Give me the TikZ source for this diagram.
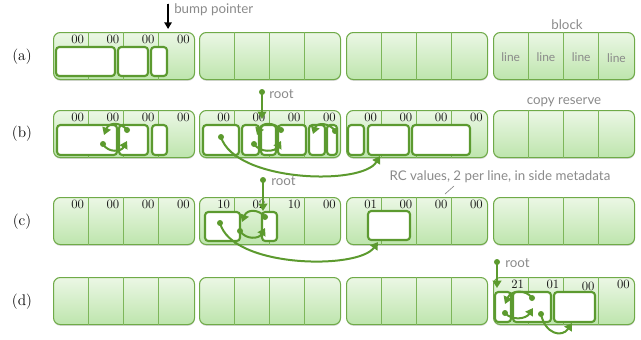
\documentclass[tikz,border=0pt]{standalone}
\usepackage{fontspec}
\newfontfamily\notefont{Lato}
\usetikzlibrary{calc,fit,shadows,arrows.meta}

\definecolor{blockTop}{HTML}{EBF7E5}
\definecolor{blockBot}{HTML}{BEE5AD}
\definecolor{blockEdge}{HTML}{6FAA48}
\definecolor{divEdge}{HTML}{7DB65A}
\definecolor{objEdge}{HTML}{5C9A30}
\definecolor{arrowGreen}{HTML}{5C9A2E}
\definecolor{noteGray}{HTML}{8A8A8A}

% one block of four lines, #1 name, #2 left, #3 top
\newcommand\memblk[3]{%
  \node[blockbox, anchor=north west] (#1) at (#2,#3) {};
  \foreach \k in {1,2,3}
    \draw[divider] ($(#1.north west)+(\k*35.25,0)$) -- ($(#1.south west)+(\k*35.25,0)$);
}
% reference count label of line #2 of block #1
\newcommand\rclab[3]{%
  \node[rclabel, anchor=base east] (#1-rc#2) at ($(#1.north west)+(#2*35.25-4,11)$) {#3};
}
% an object, #1 name, #2 top-left, #3 bottom-right
\newcommand\memobj[3]{%
  \node[objbox, fit={#2 #3}] (#1) {};
}

\begin{document}
\begin{tikzpicture}[x=0.75pt,y=-0.75pt,
  blockbox/.style={draw=blockEdge, line width=0.8pt, rounded corners=5pt,
    top color=blockTop, bottom color=blockBot,
    minimum width=105.75pt, minimum height=35.25pt, inner sep=0pt,
    drop shadow={shadow xshift=0.2pt, shadow yshift=-1pt, opacity=0.25, fill=black!60}},
  divider/.style={draw=divEdge, line width=0.75pt},
  objbox/.style={draw=objEdge, line width=1.6pt, fill=white, rounded corners=2.5pt, inner sep=0pt},
  rclabel/.style={font=\fontsize{9.5}{10}\selectfont, inner sep=0pt, text=black!90},
  rowtag/.style={font=\fontsize{11.5}{12}\selectfont, inner sep=0pt},
  note/.style={font=\notefont\fontsize{10}{12}\selectfont, text=noteGray, inner sep=0pt},
  ptr/.style={draw=arrowGreen, line width=1.5pt, -{Triangle[length=5.5pt,width=6.5pt]}},
  dot/.style={circle, fill=arrowGreen, inner sep=0pt, minimum size=4.5pt},
]
\useasboundingbox (0,0) rectangle (641,339);

% ---------- row labels ----------
\node[rowtag] (ta) at (22,57) {(a)};
\node[rowtag] (tb) at (22,134) {(b)};
\node[rowtag] (tc) at (22,222) {(c)};
\node[rowtag] (td) at (22,302) {(d)};

% ---------- blocks ----------
\memblk{A1}{53}{32}  \memblk{A2}{199}{32}  \memblk{A3}{346}{32}  \memblk{A4}{493}{32}
\memblk{B1}{53}{110} \memblk{B2}{199}{110} \memblk{B3}{346}{110} \memblk{B4}{493}{110}
\memblk{C1}{53}{197} \memblk{C2}{199}{197} \memblk{C3}{346}{197} \memblk{C4}{493}{197}
\memblk{D1}{53}{277} \memblk{D2}{199}{277} \memblk{D3}{346}{277} \memblk{D4}{493}{277}

% ---------- reference counts ----------
\rclab{A1}{1}{00} \rclab{A1}{2}{00} \rclab{A1}{3}{00} \rclab{A1}{4}{00}
\rclab{B1}{1}{00} \rclab{B1}{2}{00} \rclab{B1}{3}{00} \rclab{B1}{4}{00}
\rclab{B2}{1}{00} \rclab{B2}{2}{00} \rclab{B2}{3}{00} \rclab{B2}{4}{00}
\rclab{B3}{1}{00} \rclab{B3}{2}{00} \rclab{B3}{3}{00} \rclab{B3}{4}{00}
\rclab{C1}{1}{00} \rclab{C1}{2}{00} \rclab{C1}{3}{00} \rclab{C1}{4}{00}
\rclab{C2}{1}{10} \rclab{C2}{2}{02} \rclab{C2}{3}{10} \rclab{C2}{4}{00}
\rclab{C3}{1}{01} \rclab{C3}{2}{00} \rclab{C3}{3}{00} \rclab{C3}{4}{00}
\rclab{D4}{1}{21} \rclab{D4}{2}{01}
\node[rclabel, anchor=base east] (D4-rc3) at ($(D4.north west)+(3*35.25-4,13)$) {00};
\rclab{D4}{4}{00}

% ---------- objects ----------
\memobj{oa1}{(56,47)}{(115,76)}
\memobj{oa2}{(118,47)}{(148,76)}
\memobj{oa3}{(151,47)}{(167,76)}

\memobj{ob1}{(57,125)}{(117,155)}
\memobj{ob2}{(119,125)}{(148,155)}
\memobj{ob3}{(152,125)}{(167,155)}
\memobj{ob4}{(203,125)}{(239,155)}
\memobj{ob5}{(242,125)}{(259,155)}
\memobj{ob6}{(261,125)}{(276,155)}
\memobj{ob7}{(278,125)}{(306,155)}
\memobj{ob8}{(309,125)}{(325,155)}
\memobj{ob9}{(327,125)}{(337,155)}
\memobj{ob10}{(348,125)}{(364,155)}
\memobj{ob11}{(368,125)}{(409,155)}
\memobj{ob12}{(412,125)}{(470,155)}

\memobj{oc1}{(205,212)}{(240,241)}
\memobj{oc2}{(262,212)}{(277,241)}
\memobj{oc3}{(368,211)}{(410,240)}

\memobj{od1}{(495,292)}{(511,322)}
\memobj{od2}{(513,292)}{(551,322)}
\memobj{od3}{(554,292)}{(595,322)}

% ---------- line captions ----------
\foreach \k in {1,2,3}
  \node[note, font=\notefont\fontsize{9}{10}\selectfont, anchor=base] (ln\k) at ($(A4.north west)+(\k*35.25-17.6,29)$) {line};
\node[note, font=\notefont\fontsize{9}{10}\selectfont, anchor=base] (ln4) at ($(A4.north west)+(4*35.25-17.6,30.5)$) {line};

% ---------- annotations ----------
\node[note, anchor=base west] (bump) at (174,13) {bump pointer};
\coordinate (bumptop) at (168,4);
\draw[line width=1.3pt, -{Triangle[length=5pt,width=5.5pt]}] (bumptop) -- (oa3.north east |- 0,29);
\node[note, anchor=base] (blk) at (567,29) {block};
\node[note, anchor=base] (copy) at (564,104) {copy reserve};
\node[note, anchor=base] (rcnote) at (500,180) {RC values, 2 per line, in side metadata};
\coordinate (leadA) at (454,186);
\coordinate (leadB) at (445,194);
\draw[noteGray, line width=0.5pt] (leadA) -- (leadB);

% ---------- roots ----------
\node[dot] (rb) at (262,92) {};
\node[note, anchor=base west] (rbt) at (269,98) {root};
\coordinate (rbe) at (262,119);
\draw[ptr] (rb.center) -- (rbe);

\node[dot] (rc) at (263,180) {};
\node[note, anchor=base west] (rct) at (271,185) {root};
\coordinate (rce) at (263,211);
\draw[ptr] (rc.center) -- (rce);

\node[dot] (rd) at (497,262) {};
\node[note, anchor=base west] (rdt) at (505,267) {root};
\coordinate (rde) at (497,288);
\draw[ptr] (rd.center) -- (rde);

% ---------- pointers, row (b) ----------
\node[dot] (p1) at (127,130) {};
\coordinate (q1) at (104,135);
\draw[ptr] (p1.center) .. controls (121,122) and (109,122) .. (q1);
\node[dot] (p2) at (103,144) {};
\coordinate (q2) at (127,141);
\draw[ptr] (p2.center) .. controls (108,153) and (121,152) .. (q2);

\node[dot] (p3) at (281,130) {};
\coordinate (q3) at (257,135);
\draw[ptr] (p3.center) .. controls (275,122) and (262,122) .. (q3);
\node[dot] (p4) at (254,144) {};
\coordinate (q4) at (281,141);
\draw[ptr] (p4.center) .. controls (260,153) and (275,152) .. (q4);

\node[dot] (p5) at (335,131) {};
\coordinate (q5) at (313,134);
\draw[ptr] (p5.center) .. controls (330,123) and (317,122) .. (q5);

\node[dot] (p6) at (221,137) {};
\coordinate (q6) at (380,156);
\draw[ptr] (p6.center) .. controls (235,182) and (362,186) .. (q6);

% ---------- pointers, row (c) ----------
\node[dot] (p7) at (265,217) {};
\coordinate (q7) at (242,222);
\draw[ptr] (p7.center) .. controls (259,209) and (247,209) .. (q7);
\node[dot] (p8) at (240,231) {};
\coordinate (q8) at (265,228);
\draw[ptr] (p8.center) .. controls (246,240) and (259,239) .. (q8);

\node[dot] (p9) at (220,223) {};
\coordinate (q9) at (378,242);
\draw[ptr] (p9.center) .. controls (232,268) and (358,270) .. (q9);

% ---------- pointers, row (d) ----------
\node[dot] (p10) at (532,298) {};
\coordinate (q10) at (505,304);
\draw[ptr] (p10.center) .. controls (526,289) and (511,290) .. (q10);
\node[dot] (p11) at (505,313) {};
\coordinate (q11) at (533,308);
\draw[ptr] (p11.center) .. controls (512,321) and (526,319) .. (q11);

\node[dot] (p12) at (541,314) {};
\coordinate (q12) at (572,323);
\draw[ptr] (p12.center) .. controls (545,334) and (562,338) .. (q12);

\end{tikzpicture}
\end{document}
